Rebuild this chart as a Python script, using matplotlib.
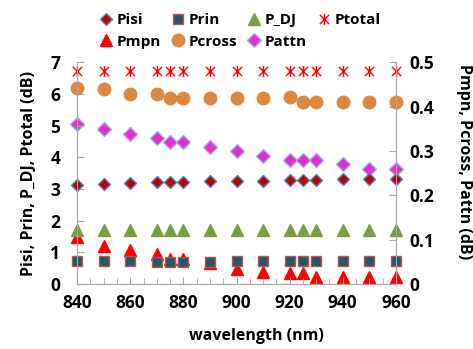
import matplotlib
matplotlib.use("Agg")
import matplotlib.pyplot as plt
from matplotlib.path import Path
from matplotlib.ticker import MultipleLocator
import numpy as np

plt.rcParams['font.family'] = ['Open Sans', 'DejaVu Sans']
plt.rcParams['font.weight'] = 'bold'

# wavelength (nm)
wavelength = [840, 850, 860, 870, 875, 880, 890, 900, 910, 920, 925, 930, 940, 950, 960]

# left axis series (dB)
p_isi = [3.14, 3.17, 3.18, 3.21, 3.21, 3.23, 3.24, 3.25, 3.25, 3.27, 3.27, 3.28, 3.30, 3.31, 3.31]
p_rin = [0.72, 0.72, 0.72, 0.71, 0.70, 0.70, 0.71, 0.72, 0.72, 0.72, 0.72, 0.72, 0.72, 0.72, 0.72]
p_dj = [1.70, 1.70, 1.70, 1.70, 1.70, 1.70, 1.70, 1.70, 1.70, 1.70, 1.70, 1.70, 1.70, 1.70, 1.70]
p_total = [6.72, 6.72, 6.72, 6.72, 6.72, 6.72, 6.72, 6.72, 6.72, 6.72, 6.72, 6.72, 6.72, 6.72, 6.72]

# right axis series (dB)
p_mpn = [0.106, 0.086, 0.077, 0.067, 0.057, 0.056, 0.047, 0.035, 0.028, 0.026, 0.026, 0.015, 0.015, 0.015, 0.016]
p_cross = [0.441, 0.440, 0.429, 0.429, 0.420, 0.420, 0.420, 0.420, 0.420, 0.421, 0.411, 0.411, 0.410, 0.410, 0.410]
p_attn = [0.360, 0.349, 0.339, 0.330, 0.319, 0.319, 0.309, 0.300, 0.288, 0.279, 0.279, 0.279, 0.270, 0.259, 0.259]

# star marker: X plus a vertical bar
star = Path([(-1, -1), (1, 1), (-1, 1), (1, -1), (0, -1.2), (0, 1.2)],
            [Path.MOVETO, Path.LINETO, Path.MOVETO, Path.LINETO, Path.MOVETO, Path.LINETO])

grey = '#A6A6A6'
fig = plt.figure(figsize=(4.73, 3.49), dpi=100)
ax = fig.add_axes([0.163, 0.186, 0.674, 0.636])
ax2 = ax.twinx()

kw = dict(ls='none', clip_on=False)
h_isi, = ax.plot(wavelength, p_isi, 'D', ms=6.5, mfc='#C00000', mec='#4F81BD', mew=1, label='Pisi', **kw)
h_rin, = ax.plot(wavelength, p_rin, 's', ms=7, mfc='#215968', mec='#C0504D', mew=1, label='Prin', **kw)
h_dj, = ax.plot(wavelength, p_dj, '^', ms=9, mfc='#77A042', mec='#77A042', label='P_DJ', **kw)
h_tot, = ax.plot(wavelength, p_total, marker=star, ms=8, mec='#FF0000', mew=1, label='Ptotal', **kw)

h_mpn, = ax2.plot(wavelength, p_mpn, '^', ms=9, mfc='#FF0000', mec='#FF0000', label='Pmpn', **kw)
h_cross, = ax2.plot(wavelength, p_cross, 'o', ms=9, mfc='#DE8740', mec='#DE8740', label='Pcross', **kw)
h_attn, = ax2.plot(wavelength, p_attn, 'D', ms=7, mfc='#E52CD6', mec='#9DB3E0', mew=1, label='Pattn', **kw)

ax.set_xlim(840, 960)
ax.set_ylim(0, 7)
ax2.set_ylim(0, 0.5)
ax.xaxis.set_major_locator(MultipleLocator(20))
ax.xaxis.set_minor_locator(MultipleLocator(5))
ax.yaxis.set_major_locator(MultipleLocator(1))
ax2.yaxis.set_major_locator(MultipleLocator(0.1))
ax2.yaxis.set_major_formatter(plt.FuncFormatter(lambda v, p: '0' if v == 0 else f'{v:.1f}'))

for a in (ax, ax2):
    a.spines['top'].set_visible(False)
    for s in ('left', 'right', 'bottom'):
        a.spines[s].set_color(grey)
    a.tick_params(which='both', direction='in', color=grey, labelsize=12.5, pad=7)
    a.tick_params(which='major', length=5)
    a.tick_params(which='minor', length=4)
ax.tick_params(axis='y', pad=12)
ax2.tick_params(axis='y', pad=10)
ax.set_zorder(ax2.get_zorder() + 1)
ax.patch.set_visible(False)

ax.set_xlabel('wavelength (nm)', fontsize=11.5, fontweight='bold')
ax.xaxis.set_label_coords(0.564, -0.2)
ax.set_ylabel('Pisi, Prin, P_DJ, Ptotal (dB)', fontsize=11.5, fontweight='bold', labelpad=10)
ax2.set_ylabel('Pmpn, Pcross, Pattn (dB)', fontsize=11.5, fontweight='bold', rotation=270, va='bottom')
ax2.yaxis.set_label_coords(1.188, 0.55)

handles = [h_isi, h_mpn, h_rin, h_cross, h_dj, h_attn, h_tot]
fig.legend(handles=handles, labels=[h.get_label() for h in handles], ncol=4,
           loc='upper center', bbox_to_anchor=(0.508, 0.985), frameon=False,
           fontsize=11, handlelength=0.8, handletextpad=0.3, columnspacing=0.7,
           labelspacing=0.5, borderaxespad=0.1)

fig.savefig('out.png', dpi=100)
